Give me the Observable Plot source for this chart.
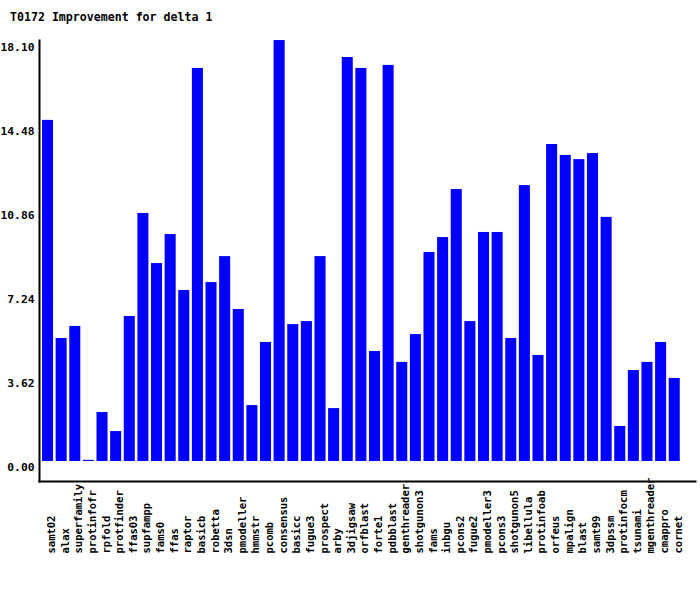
<!DOCTYPE html>
<html>
<head>
<meta charset="utf-8">
<script src="https://cdn.jsdelivr.net/npm/d3@7"></script>
<script src="https://cdn.jsdelivr.net/npm/@observablehq/plot@0.6"></script>
<style>
  html, body { margin: 0; padding: 0; background: #fff; }
  #wrap { position: relative; width: 700px; height: 590px; }
  #title { position: absolute; left: 10px; top: 11px; font-family: "DejaVu Sans Mono", monospace; font-weight: bold; font-size: 11.6px; line-height: 13px; color: #000; white-space: pre; }
</style>
</head>
<body>
<div id="wrap">
  <div id="chart"></div>
  <div id="title">T0172 Improvement for delta 1</div>
</div>
<script>
const methods = ["samt02","alax","superfamily","protinfofr","rpfold","protfinder","ffas03","supfampp","fams0","ffas","raptor","basicb","robetta","3dsn","pmodeller","hmmstr","pcomb","consensus","basicc","fugue3","prospect","arby","3djigsaw","orfblast","forte1","pdbblast","genthreader","shotgunon3","fams","inbgu","pcons2","fugue2","pmodeller3","pcons3","shotgunon5","libellula","protinfoab","orfeus","mpalign","blast","samt99","3dpssm","protinfocm","tsunami","mgenthreader","cmappro","cornet"];
const improvement = [14.70,5.30,5.82,0.05,2.11,1.29,6.25,10.69,8.53,9.78,7.37,16.94,7.71,8.83,6.55,2.41,5.13,18.14,5.90,6.03,8.83,2.28,17.41,16.94,4.74,17.07,4.27,5.47,9.01,9.65,11.72,6.03,9.87,9.87,5.30,11.89,4.57,13.66,13.19,13.01,13.27,10.52,1.51,3.92,4.27,5.13,3.58];
const yTicks = [0, 3.62, 7.24, 10.86, 14.48, 18.10];

const data = methods.map((m, i) => ({method: m, value: improvement[i]}));
const font = "'DejaVu Sans Mono', monospace";

const chart = Plot.plot({
  width: 700,
  height: 590,
  marginLeft: 39,
  marginRight: 5,
  marginTop: 40,
  marginBottom: 109,
  style: {fontFamily: font, fontWeight: "bold", fontSize: "11.3px", color: "#000", background: "#fff"},
  x: {domain: methods, paddingInner: 0.19, paddingOuter: 0.67, align: 0.165, round: false, axis: null},
  y: {domain: [0, 18.10], range: [461, 41]},
  marks: [
    Plot.barY(data, {x: "method", y: "value", fill: "#0000ff"}),
    Plot.axisY({ticks: yTicks, tickFormat: d => d.toFixed(2), tickSize: 0, tickPadding: 5, dy: 5.5, label: null, fill: "#000"}),
    Plot.text(methods, {x: d => d, frameAnchor: "bottom", rotate: -90, textAnchor: "start", dy: 72, dx: 7, fontSize: 10.5, fontWeight: "bold", fontFamily: font, fill: "#000"}),
    Plot.frame({anchor: "left", stroke: "#000", strokeWidth: 2}),
    Plot.frame({anchor: "bottom", stroke: "#000", strokeWidth: 2})
  ]
});
document.getElementById("chart").appendChild(chart);
</script>
</body>
</html>
